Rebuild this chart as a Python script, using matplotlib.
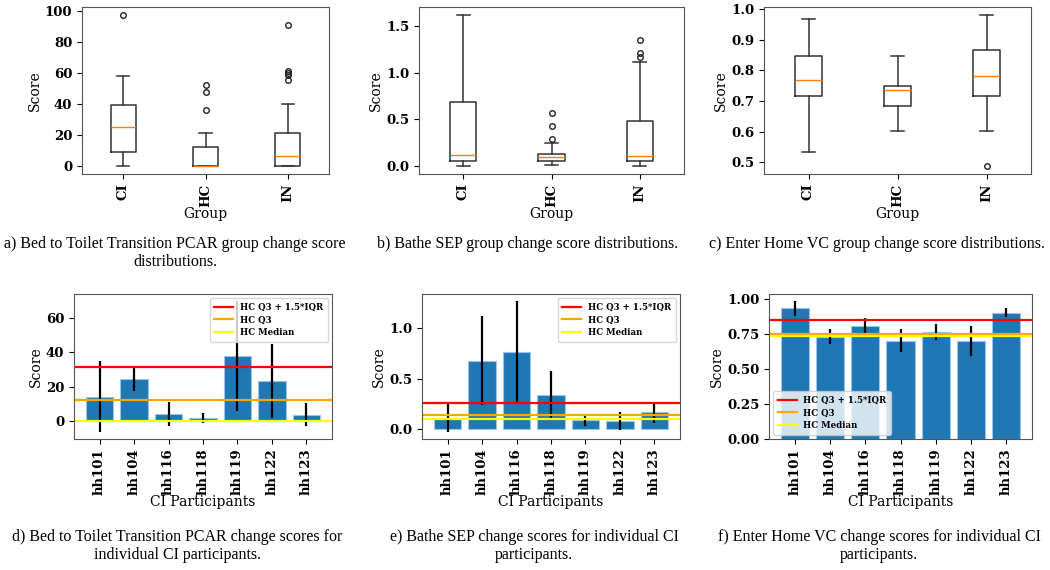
import matplotlib
matplotlib.use("Agg")
import matplotlib.pyplot as plt

# ---------------- data ----------------
groups = ["CI", "HC", "IN"]

# Box statistics: whislo, q1, med, q3, whishi, fliers
pcar_whislo = [0.0, 0.0, 0.0]
pcar_q1 = [9.5, 0.0, 0.0]
pcar_med = [25.0, 0.0, 7.0]
pcar_q3 = [39.5, 12.5, 21.5]
pcar_whishi = [58.0, 21.5, 40.0]
pcar_fliers = [[97.5], [36.5, 47.5, 52.5], [55.5, 58.5, 60.0, 61.0, 91.0]]

sep_whislo = [0.0, 0.014, 0.0]
sep_q1 = [0.056, 0.053, 0.053]
sep_med = [0.124, 0.096, 0.114]
sep_q3 = [0.69, 0.131, 0.482]
sep_whishi = [1.617, 0.252, 1.117]
sep_fliers = [[], [0.287, 0.426, 0.564], [1.16, 1.203, 1.344]]

vc_whislo = [0.534, 0.602, 0.602]
vc_q1 = [0.717, 0.685, 0.717]
vc_med = [0.768, 0.735, 0.783]
vc_q3 = [0.849, 0.749, 0.866]
vc_whishi = [0.967, 0.849, 0.983]
vc_fliers = [[], [], [0.486]]

participants = ["hh101", "hh104", "hh116", "hh118", "hh119", "hh122", "hh123"]

pcar_scores = [14.2, 24.2, 4.1, 1.6, 38.0, 23.2, 3.7]
pcar_err = [20.8, 7.0, 7.1, 3.0, 32.0, 21.3, 6.7]
pcar_hc_upper, pcar_hc_q3, pcar_hc_median = 31.3, 12.3, 0.0

sep_scores = [0.107, 0.678, 0.768, 0.336, 0.090, 0.077, 0.164]
sep_err = [0.145, 0.445, 0.51, 0.24, 0.06, 0.089, 0.105]
sep_hc_upper, sep_hc_q3, sep_hc_median = 0.255, 0.134, 0.094

vc_scores = [0.933, 0.732, 0.808, 0.703, 0.767, 0.703, 0.903]
vc_err = [0.054, 0.055, 0.055, 0.08, 0.056, 0.107, 0.031]
vc_hc_upper, vc_hc_q3, vc_hc_median = 0.850, 0.753, 0.739

captions_top = [
    "a) Bed to Toilet Transition PCAR group change score\ndistributions.",
    "b) Bathe SEP group change score distributions.",
    "c) Enter Home VC group change score distributions.",
]
captions_bottom = [
    "d) Bed to Toilet Transition PCAR change scores for\nindividual CI participants.",
    "e) Bathe SEP change scores for individual CI\nparticipants.",
    "f) Enter Home VC change scores for individual CI\nparticipants.",
]

# ---------------- style ----------------
plt.rcParams["font.family"] = "DejaVu Serif"
SPINE = "#555555"
TICKFONT = dict(family="DejaVu Serif", weight="bold", size=9.5)
LABELFONT = dict(family="DejaVu Serif", size=10)
CAPFONT = dict(family="Liberation Serif", size=11.5)

W, H = 1050, 570
fig = plt.figure(figsize=(W / 100, H / 100), dpi=100)


def px_axes(x0, y0, x1, y1):
    return fig.add_axes([x0 / W, 1 - y1 / H, (x1 - x0) / W, (y1 - y0) / H])


def style_axes(ax):
    for s in ax.spines.values():
        s.set_color(SPINE)
    ax.tick_params(colors="black", length=3.5)
    for lab in ax.get_xticklabels() + ax.get_yticklabels():
        lab.set_fontfamily(TICKFONT["family"])
        lab.set_fontweight(TICKFONT["weight"])
        lab.set_fontsize(TICKFONT["size"])


def box_panel(ax, wl, q1, med, q3, wh, fl, yticks, fmt):
    stats = []
    for i in range(len(groups)):
        stats.append(dict(whislo=wl[i], q1=q1[i], med=med[i], q3=q3[i],
                          whishi=wh[i], fliers=fl[i], label=groups[i]))
    ax.bxp(stats, positions=[1, 2, 3], widths=0.3,
           boxprops=dict(color="#333333", linewidth=1.1),
           whiskerprops=dict(color="#333333", linewidth=1.1),
           capprops=dict(color="#333333", linewidth=1.1),
           medianprops=dict(color="#ff7f0e", linewidth=1),
           flierprops=dict(marker="o", markerfacecolor="none",
                           markeredgecolor="#222222", markersize=4))
    ax.set_yticks(yticks)
    ax.set_yticklabels([fmt.format(v) for v in yticks])
    ax.set_xticks([1, 2, 3])
    ax.set_xticklabels(groups, rotation=90)
    ax.set_xlabel("Group", **LABELFONT, labelpad=0)
    ax.set_ylabel("Score", **LABELFONT, labelpad=2)
    style_axes(ax)


def bar_panel(ax, scores, err, upper, q3, median, yticks, fmt, legend_loc):
    x = list(range(len(participants)))
    ax.bar(x, scores, width=0.8, color="#1f77b4", edgecolor="#9cc3e4",
           linewidth=0.8)
    ax.errorbar(x, scores, yerr=err, fmt="none", ecolor="black",
                elinewidth=1.6)
    ax.axhline(upper, color="red", linewidth=1.6, label="HC Q3 + 1.5*IQR")
    ax.axhline(q3, color="orange", linewidth=1.6, label="HC Q3")
    ax.axhline(median, color="yellow", linewidth=1.6, label="HC Median")
    ax.set_xticks(x)
    ax.set_xticklabels(participants, rotation=90)
    ax.set_yticks(yticks)
    ax.set_yticklabels([fmt.format(v) for v in yticks])
    ax.set_xlabel("CI Participants", **LABELFONT, labelpad=0)
    ax.set_ylabel("Score", **LABELFONT, labelpad=2)
    ax.legend(loc=legend_loc, prop=dict(family="DejaVu Serif", weight="bold",
                                        size=6.2),
              handlelength=2.2, borderpad=0.5, labelspacing=0.45)
    style_axes(ax)


ax_a = px_axes(82, 7, 329, 174)
box_panel(ax_a, pcar_whislo, pcar_q1, pcar_med, pcar_q3, pcar_whishi,
          pcar_fliers, [0, 20, 40, 60, 80, 100], "{:.0f}")
ax_b = px_axes(419, 7, 684, 174)
box_panel(ax_b, sep_whislo, sep_q1, sep_med, sep_q3, sep_whishi,
          sep_fliers, [0.0, 0.5, 1.0, 1.5], "{:.1f}")
ax_c = px_axes(764, 7, 1031, 174)
box_panel(ax_c, vc_whislo, vc_q1, vc_med, vc_q3, vc_whishi,
          vc_fliers, [0.5, 0.6, 0.7, 0.8, 0.9, 1.0], "{:.1f}")

ax_d = px_axes(74, 294, 332, 439)
bar_panel(ax_d, pcar_scores, pcar_err, pcar_hc_upper, pcar_hc_q3,
          pcar_hc_median, [0, 20, 40, 60], "{:.0f}", "upper right")
ax_e = px_axes(422, 294, 680, 439)
bar_panel(ax_e, sep_scores, sep_err, sep_hc_upper, sep_hc_q3,
          sep_hc_median, [0.0, 0.5, 1.0], "{:.1f}", "upper right")
ax_f = px_axes(769, 294, 1032, 439)
bar_panel(ax_f, vc_scores, vc_err, vc_hc_upper, vc_hc_q3,
          vc_hc_median, [0.0, 0.25, 0.5, 0.75, 1.0], "{:.2f}", "lower left")

top_x = [175, 528, 877]
for cx, cap in zip(top_x, captions_top):
    fig.text(cx / W, 1 - 236 / H, cap, ha="center", va="top",
             multialignment="center", linespacing=1.15, **CAPFONT)
bot_x = [177, 534, 879]
for cx, cap in zip(bot_x, captions_bottom):
    fig.text(cx / W, 1 - 529 / H, cap, ha="center", va="top",
             multialignment="center", linespacing=1.15, **CAPFONT)

fig.savefig("out.png", dpi=100)
